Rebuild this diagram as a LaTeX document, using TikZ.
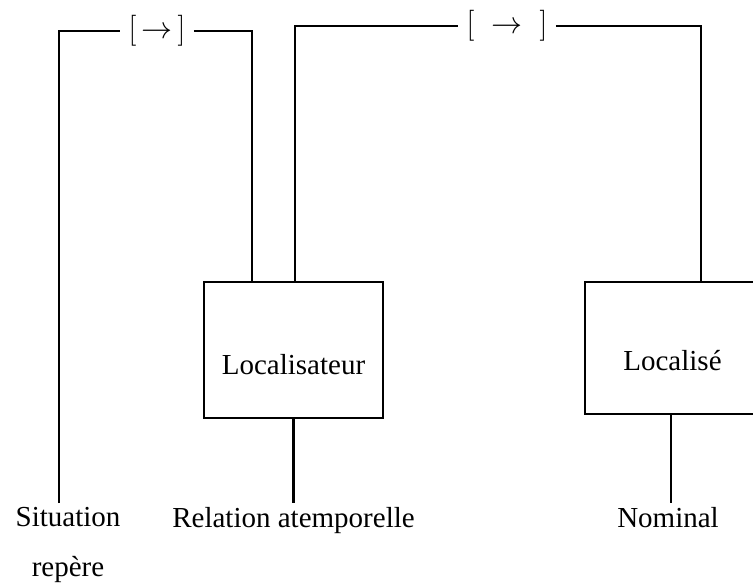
\RequirePackage{fix-cm}
\documentclass[tikz,border=0pt]{standalone}
\usepackage{fontspec}
\setmainfont{Liberation Serif}

\begin{document}
\begin{tikzpicture}[x=1pt,y=-1pt,
    line width=2.8pt,
    every node/.style={font=\fontsize{29}{34}\selectfont},
    boite/.style={draw, rectangle, line width=2.8pt},
    relateur/.style={inner sep=7pt, font=\fontsize{31}{36}\selectfont}]

\useasboundingbox (0,0) rectangle (753,586);

% Box for the localiser, text sits a bit low
\node[boite,
    minimum width=179pt,
    minimum height=136pt,
    label={[yshift=-15pt]center:Localisateur}] (loc) at (293.5,350){};

% Box for the located term, runs past the right edge
\node[boite,
    minimum width=175pt,
    minimum height=132pt,
    label={[yshift=-13pt]center:Localisé}] (locd) at (672.5,348){};

% Relators on top
\node[relateur] (relA) at (157,31) {$[\,\rightarrow\,]$};
\node[relateur] (relB) at (507,26) {$[\;\;\rightarrow\;\;]$};

% Labels at the bottom
\node[anchor=north, align=center] (sit) at (68,503) {Situation\\[16pt]repère};
\node[anchor=north] (rel) at (293.5,503) {Relation atemporelle};
\node[anchor=north] (nom) at (668,503) {Nominal};

% Connecting lines
\draw ([xshift=-9pt]sit.north) |- (relA.west);
\draw (relA.east) -| ([xshift=-41.5pt]loc.north);
\draw ([xshift=1.5pt]loc.north) |- (relB.west);
\draw (relB.east) -| ([xshift=28.5pt]locd.north);
\draw (loc.south) -- (rel.north);
\draw ([xshift=-1.5pt]locd.south) -- ([xshift=-1.5pt]locd.south |- nom.north);

\end{tikzpicture}
\end{document}
